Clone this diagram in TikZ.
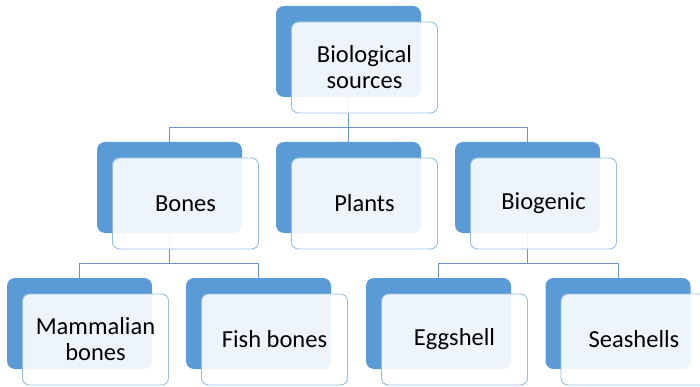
\documentclass[tikz,border=0pt]{standalone}
\usepackage{fontspec}
\setmainfont{Carlito}
\usepackage{tikz}

\definecolor{backblue}{RGB}{91,155,213}
\definecolor{edgeblue}{RGB}{150,190,228}
\definecolor{linkblue}{RGB}{105,148,196}

\begin{document}
\begin{tikzpicture}[
    x=1pt, y=-1pt,
    back/.style={rectangle, rounded corners=8pt, fill=backblue, minimum width=145pt, minimum height=91pt},
    front/.style={rectangle, rounded corners=7pt, draw=edgeblue, line width=0.9pt, fill=white, fill opacity=0.9, text opacity=1,
        minimum width=146pt, minimum height=91pt, align=center, font=\fontsize{24.5}{26}\selectfont},
    link/.style={draw=linkblue, line width=0.8pt}
]
    \useasboundingbox (0,0) rectangle (700,387);
    \coordinate (busA) at (0,127);
    \coordinate (busB) at (0,263);

    % back boxes
    \node[back] (bio-b) at (348.5,51.5) {};
    \node[back] (bones-b) at (169.5,187.5) {};
    \node[back] (plants-b) at (348.5,187.5) {};
    \node[back] (biog-b) at (527.5,187.5) {};
    \node[back] (mamm-b) at (79.5,323.5) {};
    \node[back] (fish-b) at (258.5,323.5) {};
    \node[back] (egg-b) at (438.5,323.5) {};
    \node[back] (sea-b) at (618,323.5) {};

    % connectors
    \draw[link] (bio-b.center) -- (bio-b |- busA) -| (bones-b.north);
    \draw[link] (bio-b.center) -- (plants-b.north);
    \draw[link] (bio-b.center) -- (bio-b |- busA) -| (biog-b.north);
    \draw[link] (bones-b.center) -- (bones-b |- busB) -| (mamm-b.north);
    \draw[link] (bones-b.center) -- (bones-b |- busB) -| (fish-b.north);
    \draw[link] (biog-b.center) -- (biog-b |- busB) -| (egg-b.north);
    \draw[link] (biog-b.center) -- (biog-b |- busB) -| (sea-b.north);

    % front boxes
    \node[front] (bio) at ([shift={(16,16)}]bio-b) {Biological\\sources};
    \node[front] (bones) at ([shift={(16,16)}]bones-b) {Bones};
    \node[front] (plants) at ([shift={(16,16)}]plants-b) {Plants};
    \node[front] (biog) at ([shift={(16,16)}]biog-b) {Biogenic};
    \node[front] (mamm) at ([shift={(16,16)}]mamm-b) {Mammalian\\bones};
    \node[front] (fish) at ([shift={(16,16)}]fish-b) {Fish bones};
    \node[front] (egg) at ([shift={(16,16)}]egg-b) {Eggshell};
    \node[front] (sea) at ([shift={(16,16)}]sea-b) {Seashells};
\end{tikzpicture}
\end{document}
